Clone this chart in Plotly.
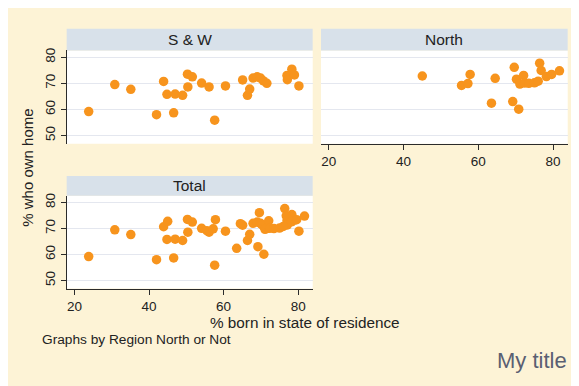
import plotly.graph_objects as go

# the page has an 8px body margin; the figure is window-sized and runs past the edges
W, H = 579, 386
OFF = 8

# % born in state of residence / % who own home, by region
sw_born = [23.8, 30.8, 35.1, 42.0, 43.9, 44.8, 46.6, 47.0, 49.0, 50.3, 50.4, 51.6, 54.1, 56.1, 57.6,
           60.5, 65.1, 66.4, 67.0, 67.9, 69.0, 69.9, 70.7, 71.6, 77.0, 77.1, 78.3, 79.0, 80.2]
sw_own = [59.2, 69.5, 67.7, 58.0, 70.7, 65.8, 58.7, 65.9, 65.4, 73.5, 68.6, 72.5, 70.1, 68.6, 55.9,
          69.0, 71.3, 65.4, 67.8, 72.0, 72.5, 72.0, 70.9, 70.0, 73.0, 71.4, 75.4, 73.2, 69.0]

north_born = [45.0, 55.5, 57.2, 57.8, 63.5, 64.5, 69.2, 69.6, 70.8, 70.2, 71.1, 72.1, 72.4, 73.5,
              75.0, 76.0, 76.4, 76.8, 78.2, 79.6, 81.7]
north_own = [72.8, 69.2, 69.9, 73.4, 62.4, 71.9, 63.0, 76.1, 60.1, 71.6, 69.7, 73.0, 70.1, 70.0,
             70.2, 70.8, 77.7, 74.9, 72.6, 73.4, 74.8]

panels = ["S & W", "North", "Total"]
x_ticks = [20, 40, 60, 80]
y_ticks = [50, 60, 70, 80]

CREAM = "#fdf3d6"
STRIP = "#d8e1ea"
ORANGE = "#f7941d"
GRID = "#e4e7ef"
AXIS = "#2b2b2b"
FONT = "Liberation Sans, Arial, sans-serif"


def px(x):
    return (x - OFF) / W


def py(y):
    return 1 - (y - OFF) / H


# window-pixel boxes of the plot regions (left, top, right, bottom)
boxes = [(66.7, 47.7, 312.7, 141.7), (321.0, 47.7, 567.7, 141.7), (66.7, 194.3, 312.7, 287.7)]
strips = [(66.7, 26.0, 312.7, 47.7), (321.0, 26.0, 567.7, 47.7), (66.7, 174.3, 312.7, 194.3)]

fig = go.Figure()

series = [(sw_born, sw_own), (north_born, north_own), (sw_born + north_born, sw_own + north_own)]
for i, (xs, ys) in enumerate(series):
    sfx = "" if i == 0 else str(i + 1)
    fig.add_trace(go.Scatter(x=xs, y=ys, mode="markers", xaxis="x" + sfx, yaxis="y" + sfx,
                             marker=dict(size=9.5, color=ORANGE), showlegend=False,
                             hoverinfo="x+y"))

shapes = []
annotations = []
for i, (b, s) in enumerate(zip(boxes, strips)):
    shapes.append(dict(type="rect", xref="paper", yref="paper", x0=px(b[0]), x1=px(b[2]),
                       y0=py(b[3]), y1=py(b[1]), fillcolor="white", line_width=0, layer="below"))
    shapes.append(dict(type="rect", xref="paper", yref="paper", x0=px(s[0]), x1=px(s[2]),
                       y0=py(s[3]), y1=py(s[1]), fillcolor=STRIP, line_width=0, layer="below"))
    annotations.append(dict(text=panels[i], xref="paper", yref="paper", x=px((s[0] + s[2]) / 2),
                            y=py((s[1] + s[3]) / 2), showarrow=False, xanchor="center",
                            yanchor="middle", font=dict(size=15.5, color="#222")))

annotations += [
    dict(text="% who own home", xref="paper", yref="paper", x=px(28), y=py(166), textangle=-90,
         showarrow=False, xanchor="center", yanchor="middle", font=dict(size=15, color="#222")),
    dict(text="% born in state of residence", xref="paper", yref="paper", x=px(305), y=py(322),
         showarrow=False, xanchor="center", yanchor="middle", font=dict(size=15.3, color="#222")),
    dict(text="Graphs by Region North or Not", xref="paper", yref="paper", x=px(40), y=py(339),
         showarrow=False, xanchor="left", yanchor="middle", font=dict(size=13.7, color="#222")),
    dict(text="My title", xref="paper", yref="paper", x=px(569), y=py(360),
         showarrow=False, xanchor="right", yanchor="middle", font=dict(size=22, color="#5a5f72")),
]

layout = dict(width=W, height=H, margin=dict(l=0, r=0, t=0, b=0), paper_bgcolor=CREAM,
              plot_bgcolor="rgba(0,0,0,0)", font=dict(family=FONT, size=13, color="#222"),
              shapes=shapes, annotations=annotations, showlegend=False)

for i, b in enumerate(boxes):
    sfx = "" if i == 0 else str(i + 1)
    show_x = i > 0
    show_y = i != 1
    layout["xaxis" + sfx] = dict(domain=[px(b[0]), px(b[2])], range=[17.9, 83.9],
                                 anchor="y" + sfx, showgrid=False, zeroline=False,
                                 tickvals=x_ticks, showticklabels=show_x,
                                 ticks="outside" if show_x else "", ticklen=5, tickcolor=AXIS,
                                 showline=show_x, linecolor=AXIS, linewidth=1,
                                 tickfont=dict(size=13.5))
    layout["yaxis" + sfx] = dict(domain=[py(b[3]), py(b[1])], range=[46.9, 82.6],
                                 anchor="x" + sfx, showgrid=True, gridcolor=GRID, gridwidth=1.2,
                                 zeroline=False, tickvals=y_ticks, showticklabels=show_y,
                                 ticks="outside" if show_y else "", ticklen=5, tickcolor=AXIS,
                                 showline=show_y, linecolor=AXIS, linewidth=1, tickangle=-90,
                                 tickfont=dict(size=13.5))

fig.update_layout(**layout)
fig.write_html("out.html")
